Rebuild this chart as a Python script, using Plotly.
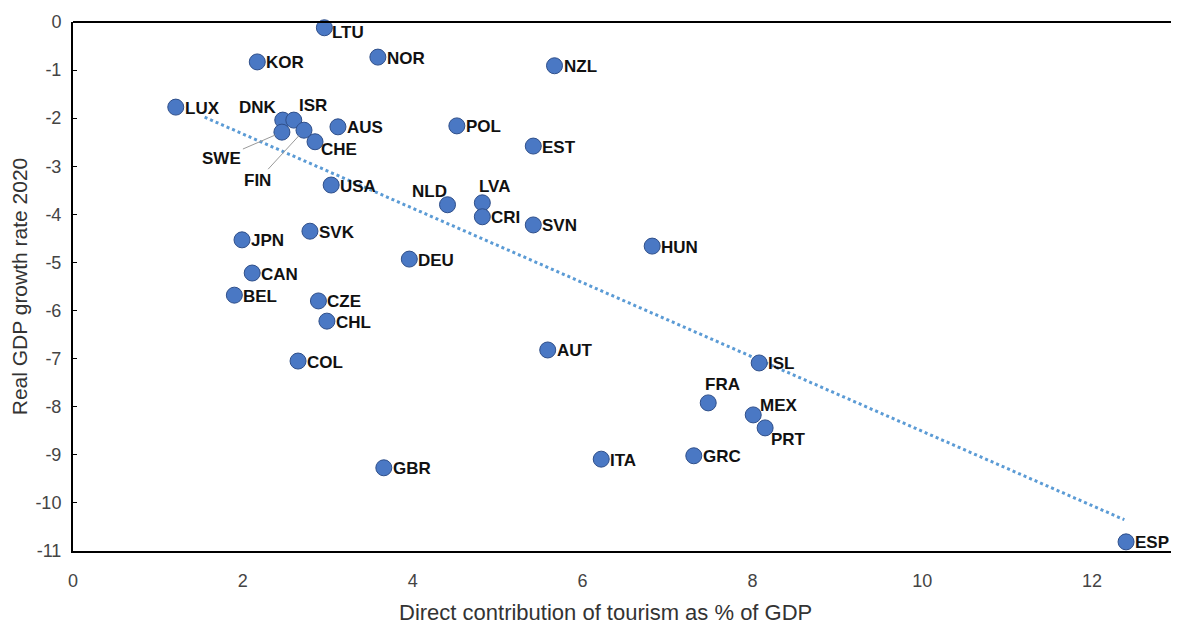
import plotly.graph_objects as go

countries = ["LTU","KOR","NOR","NZL","LUX","DNK","ISR","SWE","FIN","CHE","AUS","USA","POL","EST",
             "NLD","LVA","CRI","SVN","HUN","JPN","SVK","CAN","DEU","BEL","CZE","CHL","COL","AUT",
             "ISL","FRA","MEX","PRT","GRC","ITA","GBR","ESP"]
tourism = [2.96,2.17,3.59,5.67,1.21,2.47,2.60,2.46,2.72,2.85,3.12,3.04,4.52,5.42,
           4.41,4.82,4.82,5.42,6.82,1.99,2.79,2.11,3.96,1.90,2.89,2.99,2.65,5.59,
           8.08,7.48,8.01,8.15,7.31,6.22,3.66,12.40]
gdp_growth = [-0.12,-0.83,-0.73,-0.91,-1.77,-2.04,-2.04,-2.29,-2.25,-2.49,-2.18,-3.39,-2.16,-2.58,
              -3.80,-3.76,-4.05,-4.22,-4.66,-4.53,-4.35,-5.22,-4.93,-5.68,-5.80,-6.22,-7.05,-6.82,
              -7.09,-7.92,-8.17,-8.44,-9.02,-9.09,-9.27,-10.81]

# trend line
trend_x = [1.55, 12.38]
trend_y = [-1.98, -10.35]

x_ticks = [0, 2, 4, 6, 8, 10, 12]
y_ticks = list(range(0, -12, -1))
y_tick_labels = [str(v) for v in y_ticks]

# label placement: (xanchor, xshift, yshift)
label_style = {"DNK": ("right", -4, 13), "ISR": ("left", 3, 15), "CHE": ("left", 4, -8),
               "NLD": ("right", 1, 13), "LVA": ("left", -5, 16), "FRA": ("left", -5, 18),
               "MEX": ("left", 5, 9), "PRT": ("left", 4, -12), "LTU": ("left", 6, -5)}
leader = {"SWE": (-60, 26), "FIN": (-46, 50)}

font_family = "Liberation Sans, Arial, sans-serif"
label_font = dict(family=font_family, size=17, color="#111111")

fig = go.Figure()

fig.add_trace(go.Scatter(x=trend_x, y=trend_y, mode="lines",
                         line=dict(color="#5B9BD5", width=3, dash="dot"),
                         hoverinfo="skip", showlegend=False))

fig.add_trace(go.Scatter(
    x=tourism, y=gdp_growth, mode="markers",
    marker=dict(size=16, color="#4A78C4", line=dict(color="#2F4F8A", width=1)),
    cliponaxis=False, showlegend=False))

for c, xv, yv in zip(countries, tourism, gdp_growth):
    if c in leader:
        ax, ay = leader[c]
        fig.add_annotation(x=xv, y=yv, text=f"<b>{c}</b>", showarrow=True,
                           arrowhead=0, arrowcolor="#9a9a9a", arrowwidth=1, ax=ax, ay=ay,
                           standoff=7, font=label_font)
    else:
        anchor, xs, ys = label_style.get(c, ("left", 7, -1))
        fig.add_annotation(x=xv, y=yv, text=f"<b>{c}</b>", showarrow=False,
                           xanchor=anchor, yanchor="middle", xshift=xs, yshift=ys,
                           font=label_font)

# x-axis title
fig.add_annotation(xref="paper", yref="paper", x=0.482, y=0, yshift=-61,
                   xanchor="center", yanchor="middle", showarrow=False,
                   text="Direct contribution of tourism as % of GDP",
                   font=dict(family=font_family, size=22, color="#333333"))

fig.update_layout(
    width=1171, height=622,
    margin=dict(l=65, r=2, t=14, b=79),
    paper_bgcolor="white", plot_bgcolor="white",
    font=dict(family=font_family, color="#333333"),
)
fig.update_xaxes(range=[0, 13], tickvals=x_ticks, showgrid=False, zeroline=False,
                 showline=True, linecolor="black", linewidth=2, automargin=False,
                 ticks="", ticklabelstandoff=12, tickfont=dict(size=18, color="#444444"))
fig.update_yaxes(range=[-11, 0], tickvals=y_ticks, ticktext=y_tick_labels,
                 showgrid=False, zeroline=False,
                 showline=True, linecolor="black", linewidth=2, automargin=False,
                 ticks="inside", ticklen=4, tickcolor="black", ticklabelstandoff=6,
                 tickfont=dict(size=18, color="#444444"),
                 title=dict(text="Real GDP growth rate 2020",
                            font=dict(size=21, color="#333333"), standoff=10))
fig.add_shape(type="line", xref="paper", yref="paper", x0=0, x1=1, y0=1, y1=1,
              line=dict(color="black", width=2))

fig.write_html("out.html")
